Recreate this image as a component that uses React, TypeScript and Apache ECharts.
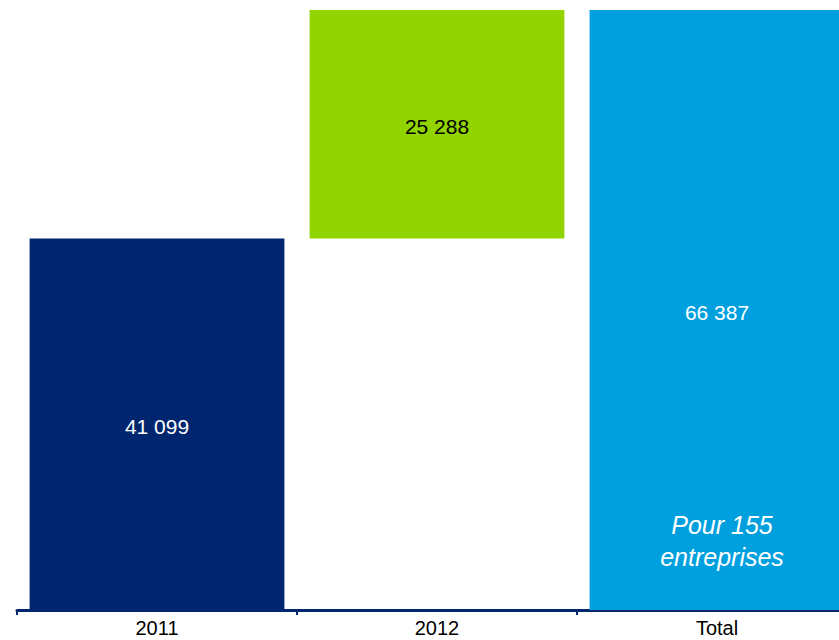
import React, { useEffect, useRef } from "react";
import * as echarts from "echarts";

const categories = ["2011", "2012", "Total"];
const baseValues = [0, 41099, 0];
const barValues = [41099, 25288, 66387];
const barColors = ["#00266F", "#92D400", "#00A0DF"];
const labelColors = ["#FFFFFF", "#000000", "#FFFFFF"];
const noteText = "Pour 155\nentreprises";

const fmt = (v: number) => String(v).replace(/\B(?=(\d{3})+(?!\d))/g, " ");

export default function App() {
  const ref = useRef<HTMLDivElement>(null);
  useEffect(() => {
    const chart = echarts.init(ref.current!, null, { renderer: "svg" });
    chart.setOption({
      animation: false,
      textStyle: { fontFamily: "'Liberation Sans', Arial, sans-serif" },
      grid: { left: 17, right: 3, top: 10, bottom: 30 },
      xAxis: {
        type: "category",
        data: categories,
        axisLine: { lineStyle: { color: "#00266F", width: 3 } },
        axisTick: { show: true, length: 5, lineStyle: { color: "#00266F", width: 2 } },
        axisLabel: { color: "#000000", fontSize: 20, margin: 8 },
      },
      yAxis: { type: "value", min: 0, max: 66387, show: false, splitLine: { show: false } },
      series: [
        {
          type: "bar",
          stack: "w",
          data: baseValues,
          itemStyle: { color: "transparent" },
          barCategoryGap: "9%",
          silent: true,
        },
        {
          type: "bar",
          stack: "w",
          barCategoryGap: "9%",
          data: barValues.map((v, i) => ({
            value: v,
            itemStyle: { color: barColors[i] },
            label: { color: labelColors[i] },
          })),
          label: {
            show: true,
            position: "inside",
            fontSize: 21,
            offset: [0, 2],
            formatter: (p: any) => fmt(p.value),
          },
        },
      ],
      graphic: [
        {
          type: "text",
          x: 722,
          y: 541,
          z: 100,
          style: {
            text: noteText,
            align: "center",
            verticalAlign: "middle",
            fill: "#FFFFFF",
            fontStyle: "italic",
            fontSize: 25,
            fontFamily: "'Liberation Sans', Arial, sans-serif",
            lineHeight: 32,
          },
        },
      ],
    });
    return () => chart.dispose();
  }, []);
  return (
    <div style={{ position: "absolute", left: 0, top: 0, width: 839, height: 640, overflow: "hidden" }}>
      <div ref={ref} style={{ width: 860, height: 640 }} />
    </div>
  );
}
